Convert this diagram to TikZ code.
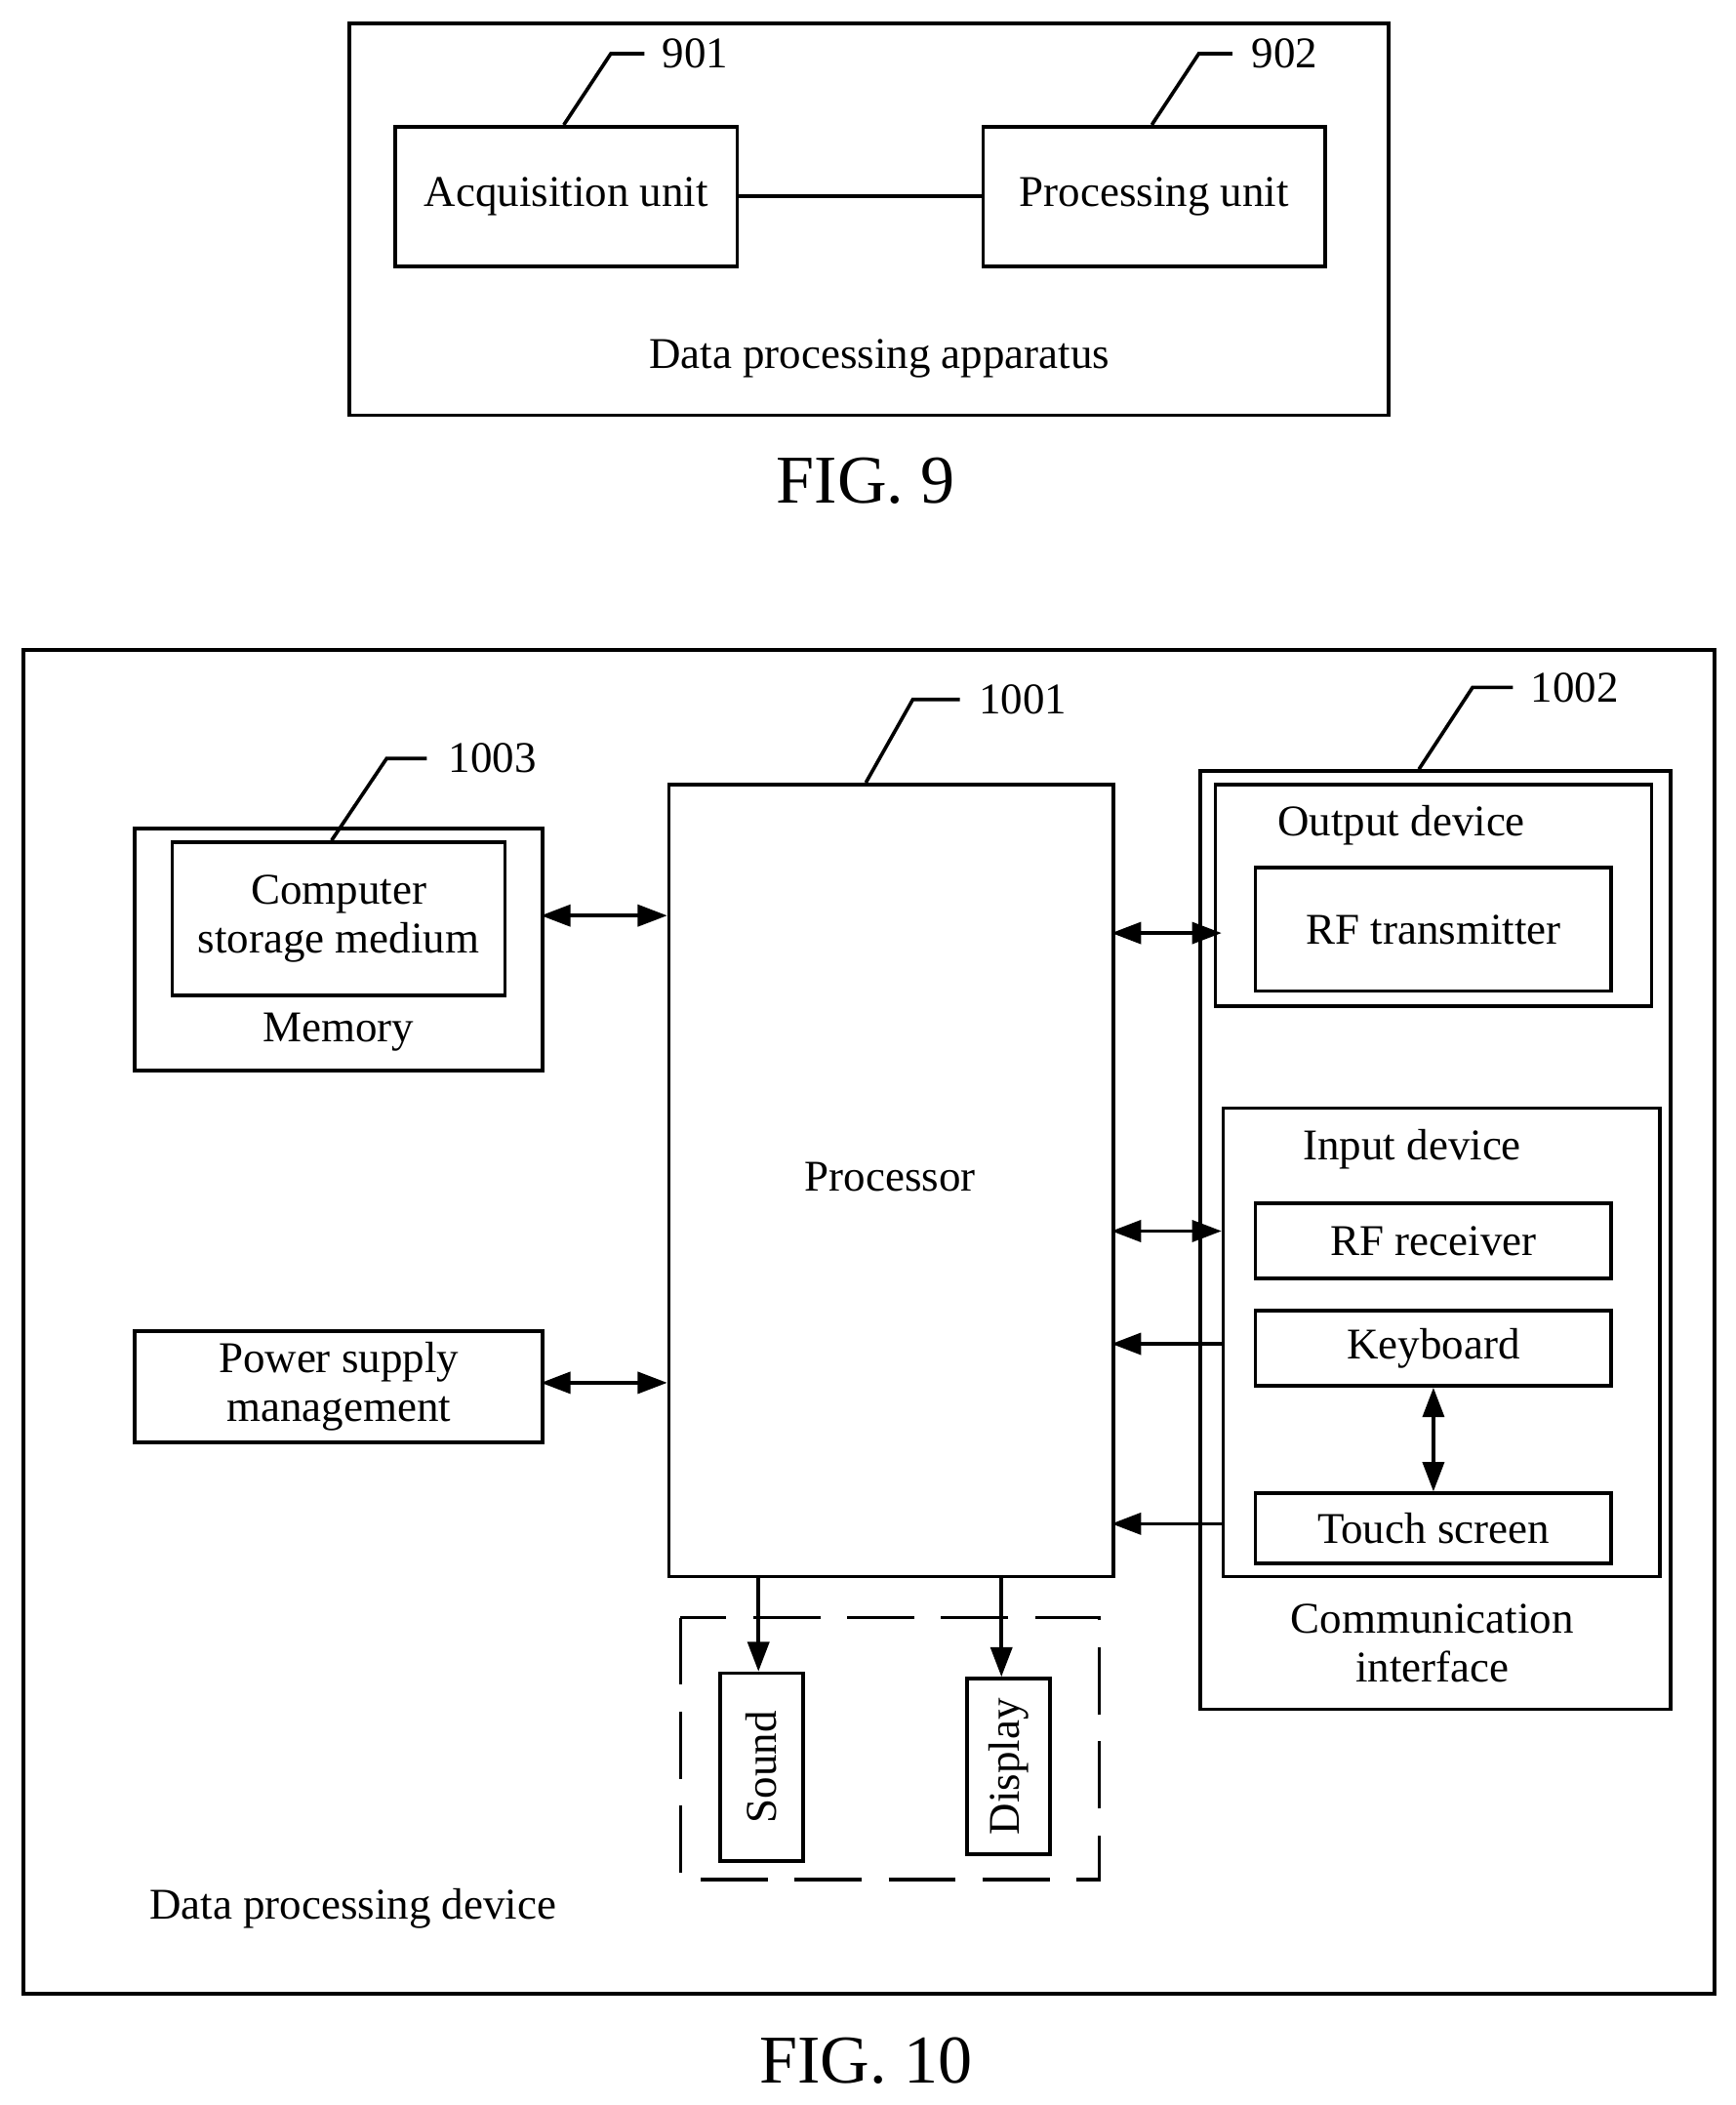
\documentclass[tikz,border=0pt]{standalone}
\usepackage{fontspec}
\setmainfont{Liberation Serif}
\usetikzlibrary{arrows.meta}
\begin{document}
\begin{tikzpicture}[x=0.1mm,y=-0.1mm,
  line width=0.75pt,
  box/.style={draw,rectangle,anchor=north west,inner sep=0pt},
  txt/.style={font=\fontsize{9.3}{10.5}\selectfont,align=center,inner sep=0pt},
  fig/.style={font=\fontsize{14.5}{16}\selectfont,inner sep=0pt},
  dbl/.style={{Triangle[length=2.2mm,width=1.6mm]}-{Triangle[length=2.2mm,width=1.6mm]}},
  sgl/.style={-{Triangle[length=2.2mm,width=1.6mm]}}]
\useasboundingbox (0,0) rectangle (1293,1568);
% FIG 9
\node[box,minimum width=77.4mm,minimum height=29.2mm] (app) at (259,16) {};
\node[box,minimum width=25.5mm,minimum height=10.4mm] (acq) at (293,93) {};
\node[txt] at (acq.center) {Acquisition unit};
\node[box,minimum width=25.5mm,minimum height=10.4mm] (proc) at (731,93) {};
\node[txt] at (proc.center) {Processing unit};
\draw (acq) -- (proc);
\coordinate (l901) at (420,93);
\draw (l901) -- (455,40) -- (480,40);
\node[txt] (t901) at (518,40) {901};
\coordinate (l902) at (858,93);
\draw (l902) -- (893,40) -- (918,40);
\node[txt] (t902) at (957,40) {902};
\node[txt] (apptxt) at (655,267) {Data processing apparatus};
\node[fig] (fig9) at (645,358) {FIG. 9};
% FIG 10
\node[box,minimum width=126mm,minimum height=100.1mm] (dev) at (16,483) {};
\node[box,minimum width=33.1mm,minimum height=59mm] (cpu) at (497,583) {};
\node[txt] at (663,877) {Processor};
\draw (645,583) -- (680,521) -- (715,521);
\node[txt] (t1001) at (762,521) {1001};
\node[box,minimum width=30.4mm,minimum height=18mm] (mem) at (99,616) {};
\node[box,minimum width=24.8mm,minimum height=11.4mm] (csm) at (127,626) {};
\node[txt] at (csm.center) {Computer\\storage medium};
\node[txt] at (252,769) {Memory};
\draw (247,626) -- (288,565) -- (318,565);
\node[txt] (t1003) at (367,565) {1003};
\node[box,minimum width=30.4mm,minimum height=8.3mm] (pwr) at (99,990) {};
\node[txt] at (pwr.center) {Power supply\\management};
\draw[dbl] (403,682) -- (497,682);
\draw[dbl] (403,1030) -- (497,1030);
% comm interface
\node[box,minimum width=35mm,minimum height=69.9mm] (comm) at (893,573) {};
\draw (1057,573) -- (1097,512) -- (1127,512);
\node[txt] (t1002) at (1173,512) {1002};
\node[box,minimum width=32.5mm,minimum height=16.5mm] (out) at (904,583) {};
\node[txt] at (1044,615) {Output device};
\node[box,minimum width=26.5mm,minimum height=9.2mm] (rft) at (934,645) {};
\node[txt] at (rft.center) {RF transmitter};
\node[box,minimum width=32.5mm,minimum height=34.9mm] (in) at (910,824) {};
\node[txt] at (1052,856) {Input device};
\node[box,minimum width=26.5mm,minimum height=5.6mm] (rfr) at (934,895) {};
\node[txt] at (rfr.center) {RF receiver};
\node[box,minimum width=26.5mm,minimum height=5.6mm] (kb) at (934,975) {};
\node[txt] at (kb.center) {Keyboard};
\node[box,minimum width=26.5mm,minimum height=5.2mm] (ts) at (934,1111) {};
\node[txt] at (ts.center) {Touch screen};
\draw[dbl] (kb.south) -- (ts.north);
\node[txt] at (1067,1224) {Communication\\interface};
\draw[dbl] (828,695) -- (910,695);
\draw[dbl] (828,917) -- (910,917);
\draw[sgl] (910,1001) -- (828,1001);
\draw[sgl] (910,1135) -- (828,1135);
% outputs
\draw[dash pattern=on 5mm off 2mm] (507,1205) rectangle (819,1400);
\node[box,minimum width=6.2mm,minimum height=14mm] (snd) at (535,1245) {};
\node[txt,rotate=90] at (snd.center) {Sound};
\node[box,minimum width=6.2mm,minimum height=13.1mm] (dsp) at (719,1249) {};
\node[txt,rotate=90] at (dsp.center) {Display};
\draw[sgl] (565,1173) -- (snd.north -| 565,0);
\draw[sgl] (746,1173) -- (dsp.north -| 746,0);
\node[txt] at (263,1422) {Data processing device};
\node[fig] (fig10) at (645,1535) {FIG. 10};
\end{tikzpicture}
\end{document}
